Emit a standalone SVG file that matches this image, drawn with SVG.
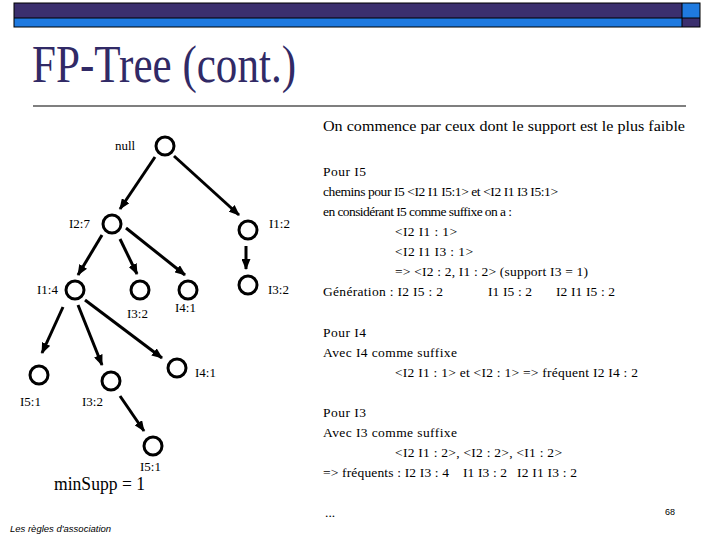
<svg xmlns="http://www.w3.org/2000/svg" width="720" height="540" viewBox="0 0 720 540">
<style>
.node{fill:none;stroke:#000;stroke-width:3}
.lbl{font-family:"Liberation Serif",serif;font-size:13px;fill:#000}
.edge{stroke:#000;stroke-width:3;fill:none}
.txt{font-family:"Liberation Serif",serif;font-size:13.5px;fill:#000}
</style>
<defs>
<marker id="ah" markerUnits="userSpaceOnUse" markerWidth="11" markerHeight="9" refX="10" refY="4.5" orient="auto">
<path d="M0,0 L11,4.5 L0,9 z" fill="#000"/>
</marker>
</defs>
<rect width="720" height="540" fill="#fff"/>
<g id="header">
<rect x="14" y="3" width="668" height="15" fill="#3b2f6e"/>
<rect x="14" y="18" width="668" height="9" fill="#1f7ae0"/>
<rect x="682" y="3" width="18" height="15" fill="#1f7ae0"/>
<rect x="682" y="18" width="18" height="9" fill="#3b2f6e"/>
<rect x="14" y="3" width="686" height="24" fill="none" stroke="#000" stroke-width="1"/>
<line x1="14" y1="18" x2="700" y2="18" stroke="#000" stroke-width="1"/>
<line x1="682" y1="3" x2="682" y2="27" stroke="#000" stroke-width="1"/>
</g>
<text x="32" y="82" font-family="Liberation Serif,serif" font-size="52" fill="#312a66" textLength="264" lengthAdjust="spacingAndGlyphs">FP-Tree (cont.)</text>
<line x1="33" y1="106" x2="686" y2="106" stroke="#000" stroke-width="1.2"/>
<g id="connectors">
<line class="edge" x1="155" y1="157" x2="120" y2="209" marker-end="url(#ah)"/>
<line class="edge" x1="174" y1="156" x2="239" y2="215" marker-end="url(#ah)"/>
<line class="edge" x1="102" y1="235" x2="78" y2="275" marker-end="url(#ah)"/>
<line class="edge" x1="120" y1="239" x2="137" y2="274" marker-end="url(#ah)"/>
<line class="edge" x1="126" y1="228" x2="185" y2="275" marker-end="url(#ah)"/>
<line class="edge" x1="246" y1="246" x2="246" y2="269" marker-end="url(#ah)"/>
<line class="edge" x1="63" y1="307" x2="42" y2="353" marker-end="url(#ah)"/>
<line class="edge" x1="78" y1="305" x2="102" y2="365" marker-end="url(#ah)"/>
<line class="edge" x1="85" y1="300" x2="162" y2="358" marker-end="url(#ah)"/>
<line class="edge" x1="120" y1="396" x2="144" y2="431" marker-end="url(#ah)"/>
</g>
<g id="n-null"><circle class="node" cx="165" cy="146" r="9"/><text class="lbl" x="115" y="150">null</text></g>
<g id="n-i27"><circle class="node" cx="112" cy="224" r="9"/><text class="lbl" x="69" y="228">I2:7</text></g>
<g id="n-i12"><circle class="node" cx="248" cy="230" r="9"/><text class="lbl" x="269" y="228">I1:2</text></g>
<g id="n-i32r"><circle class="node" cx="248" cy="285" r="9"/><text class="lbl" x="268" y="294">I3:2</text></g>
<g id="n-i14"><circle class="node" cx="75" cy="290" r="9"/><text class="lbl" x="37" y="294">I1:4</text></g>
<g id="n-i32m"><circle class="node" cx="140" cy="290" r="9"/><text class="lbl" x="127" y="318">I3:2</text></g>
<g id="n-i41a"><circle class="node" cx="188" cy="290" r="9"/><text class="lbl" x="175" y="312">I4:1</text></g>
<g id="n-i51a"><circle class="node" cx="39" cy="375" r="9"/><text class="lbl" x="20" y="406">I5:1</text></g>
<g id="n-i32b"><circle class="node" cx="111" cy="381" r="9"/><text class="lbl" x="82" y="406">I3:2</text></g>
<g id="n-i41b"><circle class="node" cx="177" cy="368" r="9"/><text class="lbl" x="195" y="377">I4:1</text></g>
<g id="n-i51b"><circle class="node" cx="153" cy="446" r="9"/><text class="lbl" x="140" y="471">I5:1</text></g>
<text x="54" y="490" font-family="Liberation Serif,serif" font-size="18" fill="#000" textLength="91" lengthAdjust="spacingAndGlyphs">minSupp = 1</text>
<text x="10" y="532" font-family="Liberation Sans,sans-serif" font-size="9.5" font-style="italic" fill="#000">Les règles d'association</text>
<g id="explanations">
<text class="txt" x="323" y="131" font-size="15" style="font-size:15px" textLength="362" lengthAdjust="spacingAndGlyphs">On commence par ceux dont le support est le plus faible</text>
<text class="txt" x="323" y="176" textLength="43" lengthAdjust="spacing">Pour I5</text>
<text class="txt" x="323" y="196" textLength="235" lengthAdjust="spacing">chemins pour I5 &lt;I2 I1 I5:1&gt; et &lt;I2 I1 I3 I5:1&gt;</text>
<text class="txt" x="323" y="216" textLength="189" lengthAdjust="spacing">en considérant I5 comme suffixe on a :</text>
<text class="txt" x="395" y="236" textLength="62" lengthAdjust="spacing">&lt;I2 I1 : 1&gt;</text>
<text class="txt" x="395" y="256" textLength="78" lengthAdjust="spacing">&lt;I2 I1 I3 : 1&gt;</text>
<text class="txt" x="395" y="276" textLength="193" lengthAdjust="spacing">=&gt; &lt;I2 : 2, I1 : 2&gt; (support I3 = 1)</text>
<text class="txt" x="323" y="296" textLength="120" lengthAdjust="spacing">Génération : I2 I5 : 2</text>
<text class="txt" x="488" y="296" textLength="44" lengthAdjust="spacing">I1 I5 : 2</text>
<text class="txt" x="556" y="296" textLength="59" lengthAdjust="spacing">I2 I1 I5 : 2</text>
<text class="txt" x="323" y="337" textLength="43" lengthAdjust="spacing">Pour I4</text>
<text class="txt" x="323" y="357" textLength="134" lengthAdjust="spacing">Avec I4 comme suffixe</text>
<text class="txt" x="395" y="377" textLength="243" lengthAdjust="spacing">&lt;I2 I1 : 1&gt; et &lt;I2 : 1&gt; =&gt; fréquent I2 I4 : 2</text>
<text class="txt" x="323" y="417" textLength="43" lengthAdjust="spacing">Pour I3</text>
<text class="txt" x="323" y="437" textLength="134" lengthAdjust="spacing">Avec I3 comme suffixe</text>
<text class="txt" x="395" y="457" textLength="167" lengthAdjust="spacing">&lt;I2 I1 : 2&gt;, &lt;I2 : 2&gt;, &lt;I1 : 2&gt;</text>
<text class="txt" x="323" y="477" textLength="126" lengthAdjust="spacing">=&gt; fréquents : I2 I3 : 4</text>
<text class="txt" x="463" y="477" textLength="44" lengthAdjust="spacing">I1 I3 : 2</text>
<text class="txt" x="517" y="477" textLength="60" lengthAdjust="spacing">I2 I1 I3 : 2</text>
<text class="txt" x="325" y="517">...</text>
</g>
<text x="665" y="515" font-family="Liberation Sans,sans-serif" font-size="9" fill="#000">68</text>
</svg>
